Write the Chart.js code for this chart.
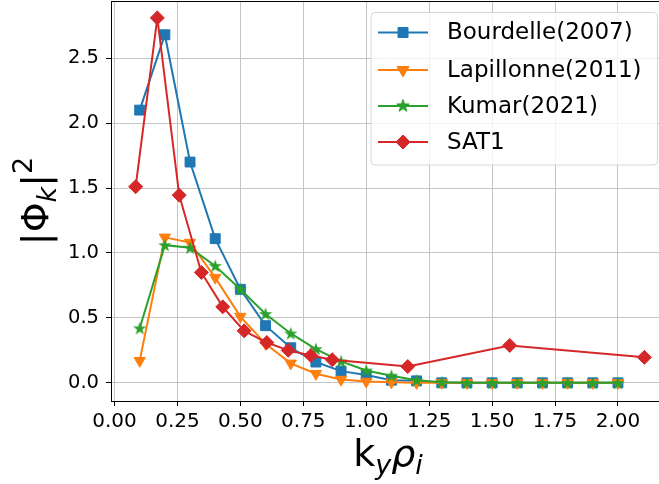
<!DOCTYPE html>
<html>
<head>
<meta charset="utf-8">
<script src="https://cdn.jsdelivr.net/npm/chart.js@4/dist/chart.umd.min.js"></script>
<style>
  html, body { margin: 0; padding: 0; background: #fff; }
</style>
</head>
<body>
<canvas id="chart" width="659" height="484"></canvas>
<script>
// data
const kyRho = [0.1, 0.2, 0.3, 0.4, 0.5, 0.6, 0.7, 0.8, 0.9, 1.0,
               1.1, 1.2, 1.3, 1.4, 1.5, 1.6, 1.7, 1.8, 1.9, 2.0];
const bourdelle = [2.10, 2.68, 1.70, 1.11, 0.72, 0.44, 0.27, 0.16, 0.09, 0.06,
                   0.02, 0.015, 0, 0, 0, 0, 0, 0, 0, 0];
const lapillonne = [0.17, 1.12, 1.08, 0.81, 0.51, 0.30, 0.15, 0.07, 0.025, 0.01,
                    0.005, 0, 0, 0, 0, 0, 0, 0, 0, 0];
const kumar = [0.42, 1.06, 1.04, 0.90, 0.72, 0.53, 0.38, 0.26, 0.165, 0.095,
               0.055, 0.02, 0.005, 0, 0, 0, 0, 0, 0, 0];
const sat1X = [0.084, 0.17, 0.257, 0.345, 0.43, 0.515, 0.605, 0.69, 0.78, 0.865, 1.165, 1.57, 2.105];
const sat1Y = [1.51, 2.81, 1.445, 0.85, 0.585, 0.40, 0.31, 0.25, 0.21, 0.178, 0.125, 0.288, 0.196];

const seriesNames = ['Bourdelle(2007)', 'Lapillonne(2011)', 'Kumar(2021)', 'SAT1'];
const xTicks = [0, 0.25, 0.5, 0.75, 1.0, 1.25, 1.5, 1.75, 2.0];
const xTickLabels = ['0.00', '0.25', '0.50', '0.75', '1.00', '1.25', '1.50', '1.75', '2.00'];
const yTicks = [0, 0.5, 1.0, 1.5, 2.0, 2.5];
const yTickLabels = ['0.0', '0.5', '1.0', '1.5', '2.0', '2.5'];

const BLUE = '#1f77b4', ORANGE = '#ff7f0e', GREEN = '#2ca02c', RED = '#d62728';
const FONT = 'DejaVu Sans';

function pts(xs, ys) {
    return xs.map((x, i) => ({ x: x, y: ys[i] }));
}

// filled 5 point star like matplotlib '*'
function starPath(ctx, cx, cy, r) {
    const inner = r * 0.4;
    ctx.beginPath();
    for (let i = 0; i < 10; i++) {
        const rad = i % 2 === 0 ? r : inner;
        const a = -Math.PI / 2 + i * Math.PI / 5;
        const px = cx + rad * Math.cos(a), py = cy + rad * Math.sin(a);
        if (i === 0) ctx.moveTo(px, py); else ctx.lineTo(px, py);
    }
    ctx.closePath();
}
const starImg = document.createElement('canvas');
starImg.width = 16; starImg.height = 16;
(function () {
    const g = starImg.getContext('2d');
    starPath(g, 8, 8.5, 7);
    g.fillStyle = GREEN;
    g.fill();
})();

function drawMarker(ctx, kind, x, y, color) {
    ctx.save();
    ctx.fillStyle = color;
    ctx.strokeStyle = color;
    ctx.lineWidth = 1;
    ctx.beginPath();
    if (kind === 'square') {
        ctx.rect(x - 5, y - 5, 10, 10);
    } else if (kind === 'tri') {
        ctx.moveTo(x - 6, y - 3.5);
        ctx.lineTo(x + 6, y - 3.5);
        ctx.lineTo(x, y + 7);
        ctx.closePath();
    } else if (kind === 'diamond') {
        ctx.moveTo(x, y - 7);
        ctx.lineTo(x + 7, y);
        ctx.lineTo(x, y + 7);
        ctx.lineTo(x - 7, y);
        ctx.closePath();
    } else if (kind === 'star') {
        starPath(ctx, x, y, 6.5);
    }
    ctx.fill();
    ctx.stroke();
    ctx.restore();
}

// draws text pieces with sub/superscripts centred on cx
function drawMath(ctx, pieces, cx, cy, size) {
    const fontOf = p => (p.italic ? 'italic ' : '') + Math.round(p.sub || p.sup ? size * 0.7 : size) + 'px "' + FONT + '"';
    let total = 0;
    pieces.forEach(p => { ctx.font = fontOf(p); p.w = ctx.measureText(p.t).width; total += p.w; });
    let x = cx - total / 2;
    ctx.textBaseline = 'alphabetic';
    ctx.textAlign = 'left';
    ctx.fillStyle = '#000';
    pieces.forEach(p => {
        ctx.font = fontOf(p);
        let dy = 0;
        if (p.sub) dy = size * 0.22;
        if (p.sup) dy = -size * 0.42;
        ctx.fillText(p.t, x, cy + dy);
        x += p.w;
    });
}

const extras = {
    id: 'extras',
    afterDraw(chart) {
        const ctx = chart.ctx;
        const a = chart.chartArea;
        ctx.save();
        // top spine
        ctx.strokeStyle = '#000';
        ctx.lineWidth = 1;
        ctx.beginPath();
        ctx.moveTo(a.left, Math.round(a.top) + 0.5);
        ctx.lineTo(a.right, Math.round(a.top) + 0.5);
        ctx.stroke();

        // legend box
        const bx = 371, by = 12.5, bw = 286.5, bh = 152.5, r = 4;
        ctx.beginPath();
        ctx.moveTo(bx + r, by);
        ctx.arcTo(bx + bw, by, bx + bw, by + bh, r);
        ctx.arcTo(bx + bw, by + bh, bx, by + bh, r);
        ctx.arcTo(bx, by + bh, bx, by, r);
        ctx.arcTo(bx, by, bx + bw, by, r);
        ctx.closePath();
        ctx.fillStyle = 'rgba(255,255,255,0.8)';
        ctx.fill();
        ctx.strokeStyle = '#d6d6d6';
        ctx.stroke();

        const rows = [32.5, 70, 106, 142];
        const colors = [BLUE, ORANGE, GREEN, RED];
        const kinds = ['square', 'tri', 'star', 'diamond'];
        rows.forEach((ry, i) => {
            ctx.strokeStyle = colors[i];
            ctx.lineWidth = 2;
            ctx.beginPath();
            ctx.moveTo(378, ry);
            ctx.lineTo(428, ry);
            ctx.stroke();
            drawMarker(ctx, kinds[i], 403, ry, colors[i]);
            ctx.fillStyle = '#000';
            ctx.font = '23px "' + FONT + '"';
            ctx.textBaseline = 'middle';
            ctx.textAlign = 'left';
            ctx.fillText(seriesNames[i], 447, ry + 1);
        });

        // axis titles
        drawMath(ctx, [
            { t: 'k' },
            { t: 'y', italic: true, sub: true },
            { t: 'ρ', italic: true },
            { t: 'i', italic: true, sub: true }
        ], 388, 466, 38);

        ctx.translate(48, 201);
        ctx.rotate(-Math.PI / 2);
        drawMath(ctx, [
            { t: '|Φ' },
            { t: 'k', italic: true, sub: true },
            { t: '|' },
            { t: '2', sup: true }
        ], 0, 0, 38);
        ctx.restore();
    }
};

const common = { borderWidth: 2, pointBorderWidth: 1, fill: false, tension: 0 };

new Chart(document.getElementById('chart'), {
    type: 'line',
    data: {
        datasets: [
            Object.assign({
                label: seriesNames[0], data: pts(kyRho, bourdelle), order: 3,
                borderColor: BLUE, backgroundColor: BLUE, pointBackgroundColor: BLUE, pointBorderColor: BLUE,
                pointStyle: 'rect', pointRadius: 7
            }, common),
            Object.assign({
                label: seriesNames[1], data: pts(kyRho, lapillonne), order: 2,
                borderColor: ORANGE, backgroundColor: ORANGE, pointBackgroundColor: ORANGE, pointBorderColor: ORANGE,
                pointStyle: 'triangle', pointRotation: 180, pointRadius: 6.5
            }, common),
            Object.assign({
                label: seriesNames[2], data: pts(kyRho, kumar), order: 1,
                borderColor: GREEN, backgroundColor: GREEN,
                pointStyle: starImg, pointRadius: 7
            }, common),
            Object.assign({
                label: seriesNames[3], data: pts(sat1X, sat1Y), order: 0,
                borderColor: RED, backgroundColor: RED, pointBackgroundColor: RED, pointBorderColor: RED,
                pointStyle: 'rectRot', pointRadius: 7
            }, common)
        ]
    },
    options: {
        responsive: false,
        animation: false,
        events: [],
        layout: { autoPadding: false, padding: { top: 1, right: 0, left: 0, bottom: 0 } },
        plugins: { legend: { display: false }, tooltip: { enabled: false } },
        scales: {
            x: {
                type: 'linear', min: -0.014, max: 2.163,
                afterBuildTicks: s => { s.ticks = xTicks.map(v => ({ value: v })); },
                afterFit: s => { s.height = 83; s.paddingLeft = 0; s.paddingRight = 0; },
                grid: { color: '#c4c4c4', tickColor: '#000', tickLength: 5, lineWidth: 1 },
                border: { color: '#000', width: 1 },
                ticks: {
                    autoSkip: false, maxRotation: 0, padding: 4, color: '#000',
                    font: { family: FONT, size: 20 },
                    callback: (v, i) => xTickLabels[i]
                }
            },
            y: {
                type: 'linear', min: -0.14, max: 2.94,
                afterBuildTicks: s => { s.ticks = yTicks.map(v => ({ value: v })); },
                afterFit: s => { s.width = 111; s.paddingTop = 0; s.paddingBottom = 0; },
                grid: { color: '#c4c4c4', tickColor: '#000', tickLength: 5, lineWidth: 1 },
                border: { color: '#000', width: 1 },
                ticks: {
                    autoSkip: false, padding: 7, color: '#000',
                    font: { family: FONT, size: 19.5 },
                    callback: (v, i) => yTickLabels[i]
                }
            }
        }
    },
    plugins: [extras]
});
</script>
</body>
</html>
